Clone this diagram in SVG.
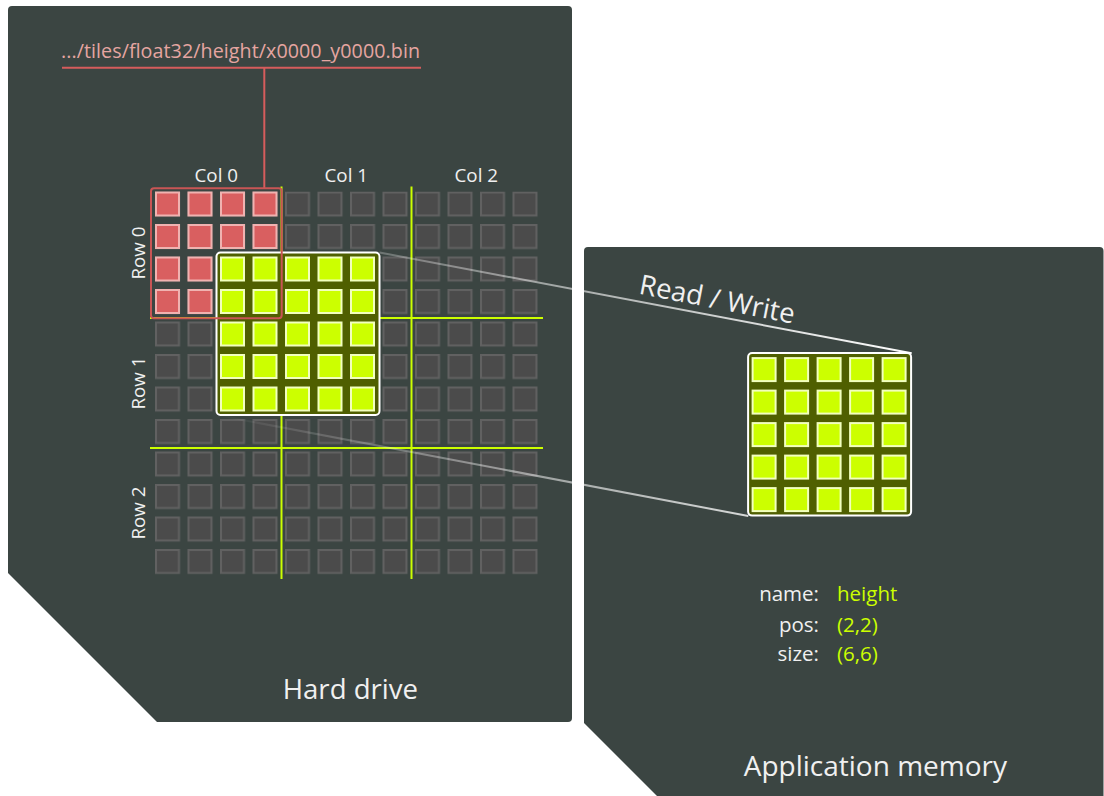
<svg xmlns="http://www.w3.org/2000/svg" xmlns:xlink="http://www.w3.org/1999/xlink" width="1104" height="796" viewBox="0 0 1104 796">
  <style>
    .panel { fill: #3b4542; }
    .lbl { font-family: "Open Sans", "Noto Sans", "Liberation Sans", sans-serif; fill: #f0f0f0; }
    .val { font-family: "Open Sans", "Noto Sans", "Liberation Sans", sans-serif; fill: #ccff00; }
    .red-cell { fill: #d95f60; stroke: #f0b2b0; stroke-width: 2; }
    .yel-cell { fill: #ccff00; stroke: #f2ffbe; stroke-width: 2; }
    .tile-line { stroke: #ccff00; stroke-width: 2; fill: none; }
    .red-line { stroke: #d65c5c; stroke-width: 2; fill: none; }
    .link { stroke: url(#fade); stroke-width: 2; fill: none; }
  </style>
  <defs>
    <!-- one grey cell of the on-disk grid, repeated every 32.5 px -->
    <pattern id="grey-cells" patternUnits="userSpaceOnUse" x="155" y="191.5" width="32.5" height="32.5">
      <rect x="1" y="1" width="23" height="23" fill="#4b4b4b" stroke="#616161" stroke-width="2"/>
    </pattern>
    <linearGradient id="fade" gradientUnits="userSpaceOnUse" x1="216" y1="0" x2="912" y2="0">
      <stop offset="0" stop-color="#ffffff" stop-opacity="0"/>
      <stop offset="0.55" stop-color="#ffffff" stop-opacity="0.6"/>
      <stop offset="1" stop-color="#ffffff" stop-opacity="1"/>
    </linearGradient>
  </defs>

  <rect width="1104" height="796" fill="#ffffff"/>

  <!-- Hard drive panel -->
  <g id="hard-drive">
    <path class="panel" d="M12,6 H568 Q572,6 572,10 V718 Q572,722 568,722 H157 L8,573 V10 Q8,6 12,6 Z"/>

    <g id="file-path">
      <text x="61" y="57.5" font-family="Open Sans, Noto Sans, Liberation Sans, sans-serif" font-size="19.7" fill="#e6a5a1" textLength="359" lengthAdjust="spacing">.../tiles/float32/height/x0000_y0000.bin</text>
      <line class="red-line" x1="62" y1="67.7" x2="421" y2="67.7"/>
      <line class="red-line" x1="264.3" y1="67.7" x2="264.3" y2="188.3"/>
    </g>

    <g id="axis-labels" class="lbl" font-size="18.8" text-anchor="middle">
      <text x="216.25" y="181.5">Col 0</text>
      <text x="346.25" y="181.5">Col 1</text>
      <text x="476.25" y="181.5">Col 2</text>
      <text transform="translate(145,253) rotate(-90)">Row 0</text>
      <text transform="translate(145,383) rotate(-90)">Row 1</text>
      <text transform="translate(145,513) rotate(-90)">Row 2</text>
    </g>

    <!-- 12 x 12 cells -->
    <g id="grid">
      <rect x="155" y="191.5" width="383" height="383" fill="url(#grey-cells)"/>
    </g>

    <g id="tile-bounds">
      <line class="tile-line" x1="281.5" y1="186.5" x2="281.5" y2="579"/>
      <line class="tile-line" x1="411.5" y1="186.5" x2="411.5" y2="579"/>
      <line class="tile-line" x1="150" y1="318" x2="543" y2="318"/>
      <line class="tile-line" x1="150" y1="448" x2="543" y2="448"/>
    </g>

    <!-- tile x0000_y0000 -->
    <g id="tile-0-0">
      <rect class="red-cell" x="156" y="192.5" width="23" height="23"/>
      <rect class="red-cell" x="188.5" y="192.5" width="23" height="23"/>
      <rect class="red-cell" x="221" y="192.5" width="23" height="23"/>
      <rect class="red-cell" x="253.5" y="192.5" width="23" height="23"/>
      <rect class="red-cell" x="156" y="225" width="23" height="23"/>
      <rect class="red-cell" x="188.5" y="225" width="23" height="23"/>
      <rect class="red-cell" x="221" y="225" width="23" height="23"/>
      <rect class="red-cell" x="253.5" y="225" width="23" height="23"/>
      <rect class="red-cell" x="156" y="257.5" width="23" height="23"/>
      <rect class="red-cell" x="188.5" y="257.5" width="23" height="23"/>
      <rect class="red-cell" x="156" y="290" width="23" height="23"/>
      <rect class="red-cell" x="188.5" y="290" width="23" height="23"/>
    </g>

    <!-- region at pos (2,2), size 5x5 -->
    <g id="region">
      <rect x="216.5" y="252.5" width="163" height="162.5" rx="4" fill="#4f5f00" stroke="#ffffff" stroke-width="2"/>
      <g class="yel-cell">
        <rect x="221" y="257.5" width="23" height="23"/><rect x="253.5" y="257.5" width="23" height="23"/><rect x="286" y="257.5" width="23" height="23"/><rect x="318.5" y="257.5" width="23" height="23"/><rect x="351" y="257.5" width="23" height="23"/>
        <rect x="221" y="290" width="23" height="23"/><rect x="253.5" y="290" width="23" height="23"/><rect x="286" y="290" width="23" height="23"/><rect x="318.5" y="290" width="23" height="23"/><rect x="351" y="290" width="23" height="23"/>
        <rect x="221" y="322.5" width="23" height="23"/><rect x="253.5" y="322.5" width="23" height="23"/><rect x="286" y="322.5" width="23" height="23"/><rect x="318.5" y="322.5" width="23" height="23"/><rect x="351" y="322.5" width="23" height="23"/>
        <rect x="221" y="355" width="23" height="23"/><rect x="253.5" y="355" width="23" height="23"/><rect x="286" y="355" width="23" height="23"/><rect x="318.5" y="355" width="23" height="23"/><rect x="351" y="355" width="23" height="23"/>
        <rect x="221" y="387.5" width="23" height="23"/><rect x="253.5" y="387.5" width="23" height="23"/><rect x="286" y="387.5" width="23" height="23"/><rect x="318.5" y="387.5" width="23" height="23"/><rect x="351" y="387.5" width="23" height="23"/>
      </g>
    </g>

    <rect id="tile-outline" x="151" y="188.3" width="130.7" height="130" rx="3" fill="none" stroke="#c95555" stroke-width="2"/>

    <text class="lbl" x="350.4" y="699" font-size="27.6" text-anchor="middle">Hard drive</text>
  </g>

  <!-- Application memory panel -->
  <g id="app-memory">
    <path class="panel" d="M588,247 H1099.5 Q1103.5,247 1103.5,251 V796 H657 L584,723 V251 Q584,247 588,247 Z"/>
    <use xlink:href="#region" href="#region" transform="translate(531.6,100.6)"/>
    <g font-size="20.5">
      <text class="lbl" x="819" y="600.5" text-anchor="end">name:</text>
      <text class="lbl" x="819" y="631.5" text-anchor="end">pos:</text>
      <text class="lbl" x="819" y="660.5" text-anchor="end">size:</text>
      <text class="val" x="837" y="600.5">height</text>
      <text class="val" x="837" y="631.5">(2,2)</text>
      <text class="val" x="837" y="660.5">(6,6)</text>
    </g>
    <text class="lbl" x="875.4" y="776" font-size="28" text-anchor="middle">Application memory</text>
  </g>

  <!-- read / write mapping between disk region and memory copy -->
  <g id="connectors">
    <line class="link" x1="379.5" y1="252.5" x2="911.7" y2="353.3"/>
    <line class="link" x1="216.5" y1="415" x2="748.3" y2="516"/>
    <text class="lbl" transform="translate(638,293.5) rotate(11)" font-size="27.5">Read / Write</text>
  </g>
</svg>
